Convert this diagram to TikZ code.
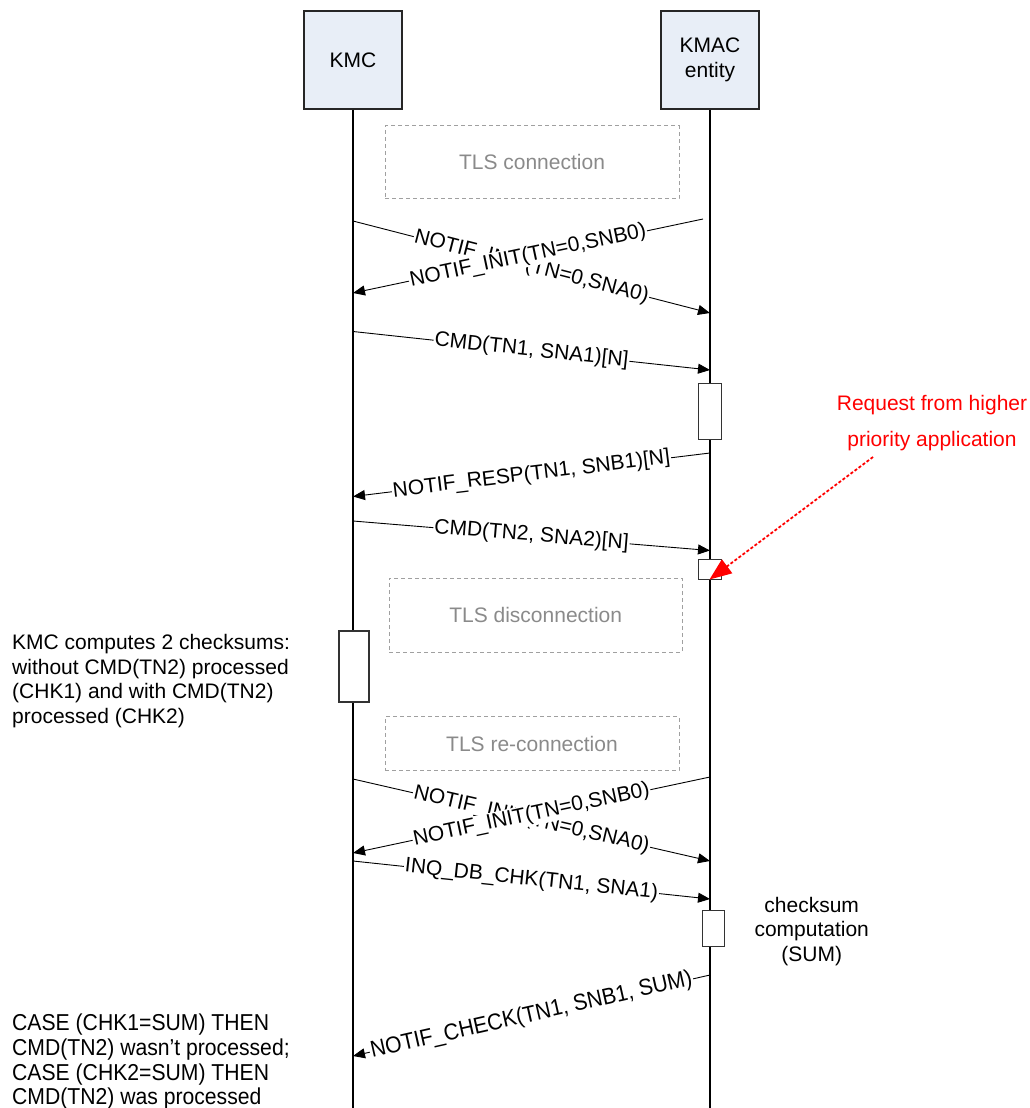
\documentclass[tikz,border=0pt]{standalone}
\usepackage{fontspec}
\setmainfont{Liberation Sans}
\newfontfamily\narrowfont[FakeStretch=0.92]{Liberation Sans}
\usetikzlibrary{arrows.meta}
\definecolor{boxblue}{RGB}{232,238,247}
\definecolor{tlsgray}{RGB}{160,160,160}
\definecolor{txtgray}{RGB}{138,138,138}
\begin{document}
\begin{tikzpicture}[x=1pt,y=-1pt,
  every node/.style={font=\fontsize{21}{24.5}\selectfont},
  actor/.style={draw=black!85, fill=boxblue, line width=1.1pt, minimum width=98pt, minimum height=98pt, inner sep=0pt, align=center},
  lifeline/.style={line width=1.9pt},
  tlsbox/.style={draw=tlsgray, dash pattern=on 4pt off 3pt, line width=0.9pt, text=txtgray, inner sep=0pt},
  actbox/.style={draw=black!80, fill=white, line width=1pt, inner sep=0pt},
  msg/.style={line width=0.9pt, -{Triangle[length=12pt,width=10pt]}},
  lbl/.style={sloped, pos=0.5, fill=white, inner sep=1pt},
  plain/.style={inner sep=0pt},
  narrow/.style={font=\narrowfont\fontsize{23}{25}\selectfont}]
\useasboundingbox (0,0) rectangle (1030,1108);

% actors
\node[actor] (kmc) at (353,60) {KMC};
\node[actor] (kmac) at (710,60) {KMAC\\entity};

% lifelines
\coordinate (kmcend) at (353,1108);
\coordinate (kmacend) at (710,1108);
\draw[lifeline] (kmc.south) -- (kmcend);
\draw[lifeline] (kmac.south) -- (kmacend);

% activation boxes
\node[actbox, minimum width=23pt, minimum height=56pt] (act1) at (709.5,411) {};
\node[actbox, minimum width=23pt, minimum height=20pt] (act2) at (709.5,569) {};
\node[actbox, line width=2pt, minimum width=30pt, minimum height=71pt] (act3) at (354,666.7) {};
\node[actbox, minimum width=21.6pt, minimum height=36pt] (act4) at (713.5,928.7) {};

% TLS boxes
\node[tlsbox, minimum width=294pt, minimum height=73pt] (tls1) at (532,162.3) {TLS connection};
\node[tlsbox, minimum width=293pt, minimum height=74pt] (tls2) at (535.7,615) {TLS disconnection};
\node[tlsbox, minimum width=294pt, minimum height=54pt] (tls3) at (532,743.8) {TLS re-connection};

% message end points
\coordinate (m1s) at (703,219);   \coordinate (m1e) at (353,293);
\coordinate (m2s) at (353,221);   \coordinate (m2e) at (710,313);
\coordinate (m3s) at (353,331.5); \coordinate (m3e) at (710,370);
\coordinate (m4s) at (710,453);   \coordinate (m4e) at (353,496.5);
\coordinate (m5s) at (353,521);   \coordinate (m5e) at (710,550.5);
\coordinate (m6s) at (710,777);   \coordinate (m6e) at (353,853);
\coordinate (m7s) at (353,779);   \coordinate (m7e) at (710,861);
\coordinate (m8s) at (353,861);   \coordinate (m8e) at (710,899);
\coordinate (m9s) at (710,975);   \coordinate (m9e) at (353,1056);

% messages
\draw[msg] (m2s) -- node[lbl] (l2) {NOTIF\_INIT(TN=0,SNA0)} (m2e);
\draw[msg] (m1s) -- node[lbl] (l1) {NOTIF\_INIT(TN=0,SNB0)} (m1e);
\draw[msg] (m3s) -- node[lbl] (l3) {CMD(TN1, SNA1)[N]} (m3e);
\draw[msg] (m4s) -- node[lbl] (l4) {NOTIF\_RESP(TN1, SNB1)[N]} (m4e);
\draw[msg] (m5s) -- node[lbl] (l5) {CMD(TN2, SNA2)[N]} (m5e);
\draw[msg] (m7s) -- node[lbl] (l7) {NOTIF\_INIT(TN=0,SNA0)} (m7e);
\draw[msg] (m6s) -- node[lbl] (l6) {NOTIF\_INIT(TN=0,SNB0)} (m6e);
\draw[msg] (m8s) -- node[lbl] (l8) {INQ\_DB\_CHK(TN1, SNA1)} (m8e);
\draw[msg] (m9s) -- node[lbl, narrow] (l9) {NOTIF\_CHECK(TN1, SNB1, SUM)} (m9e);

% red annotation
\node[plain, text=red, anchor=base] (req1) at (932,410.5) {Request from higher};
\node[plain, text=red, anchor=base] (req2) at (932,446) {priority application};
\coordinate (redstart) at (873,457);
\draw[red, line width=1.8pt, dash pattern=on 3pt off 2pt, -{Triangle[length=22pt,width=17pt]}] (redstart) -- (act2.south);

% KMC note
\node[plain, anchor=base west] (n1) at (12,649) {KMC computes 2 checksums:};
\node[plain, anchor=base west] (n2) at (12,674) {without CMD(TN2) processed};
\node[plain, anchor=base west] (n3) at (12,698.5) {(CHK1) and with CMD(TN2)};
\node[plain, anchor=base west] (n4) at (12,723) {processed (CHK2)};

% checksum note
\node[plain, anchor=base] (c1) at (811.7,912) {checksum};
\node[plain, anchor=base] (c2) at (811.7,936.5) {computation};
\node[plain, anchor=base] (c3) at (811.7,961) {(SUM)};

% result note
\node[plain, narrow, anchor=base west] (r1) at (12,1030) {CASE (CHK1=SUM) THEN};
\node[plain, narrow, anchor=base west] (r2) at (12,1055) {CMD(TN2) wasn’t processed;};
\node[plain, narrow, anchor=base west] (r3) at (12,1080) {CASE (CHK2=SUM) THEN};
\node[plain, narrow, anchor=base west] (r4) at (12,1104.3) {CMD(TN2) was processed};
\end{tikzpicture}
\end{document}
